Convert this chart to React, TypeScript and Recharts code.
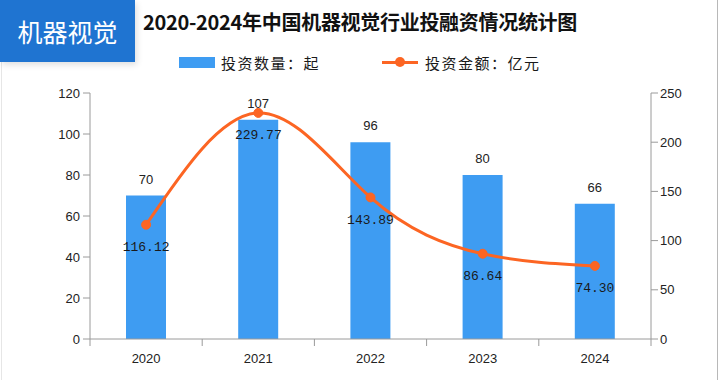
import React from "react";
import {
  ComposedChart,
  Bar,
  Line,
  XAxis,
  YAxis,
  LabelList,
} from "recharts";

const years = ["2020", "2021", "2022", "2023", "2024"];
const dealCounts = [70, 107, 96, 80, 66];
const dealAmounts = [116.12, 229.77, 143.89, 86.64, 74.3];
const leftTicks = [0, 20, 40, 60, 80, 100, 120];
const rightTicks = [0, 50, 100, 150, 200, 250];

const title = "2020-2024年中国机器视觉行业投融资情况统计图";
const badge = "机器视觉";
const countName = "投资数量：起";
const amountName = "投资金额：亿元";

const BAR_COLOR = "#3e9cf2";
const LINE_COLOR = "#fc6523";
const AXIS_COLOR = "#9a9a9a";

const data = years.map((year, i) => ({
  year,
  count: dealCounts[i],
  amount: dealAmounts[i],
}));

const XTick = (props: any) => {
  const { x, y, payload, index, visibleTicksCount } = props;
  const half = 561 / years.length / 2;
  const isLast = index === (visibleTicksCount ?? years.length) - 1;
  return (
    <g>
      <line x1={x - half} y1={y} x2={x - half} y2={y + 7} stroke={AXIS_COLOR} />
      {isLast && (
        <line x1={x + half} y1={y} x2={x + half} y2={y + 7} stroke={AXIS_COLOR} />
      )}
      <text
        x={x}
        y={y + 24}
        textAnchor="middle"
        fontSize={13}
        fontFamily="Liberation Sans, Arial, sans-serif"
        fill="#222"
      >
        {payload.value}
      </text>
    </g>
  );
};

const tickStyle = {
  fontSize: 13,
  fontFamily: "Liberation Sans, Arial, sans-serif",
  fill: "#222",
};

export default function App() {
  return (
    <div
      style={{
        position: "absolute",
        left: 0,
        top: 0,
        width: 721,
        height: 380,
        background: "#fff",
        overflow: "hidden",
      }}
    >
      <div
        style={{
          position: "absolute",
          left: 0,
          top: 0,
          width: 135,
          height: 62,
          background: "#1f74d1",
          color: "#fff",
          fontFamily: "Noto Sans CJK SC, sans-serif",
          fontSize: 25,
          lineHeight: "62px",
          textAlign: "center",
          boxShadow: "2px 3px 6px rgba(0,0,0,0.12)",
          zIndex: 2,
        }}
      >
        {badge}
      </div>
      <div
        style={{
          position: "absolute",
          left: 1,
          top: 62,
          width: 1,
          height: 318,
          background: "#e6e6e6",
        }}
      />
      <div
        style={{
          position: "absolute",
          left: 717,
          top: 0,
          width: 1,
          height: 380,
          background: "#b8b8b8",
        }}
      />
      <div
        style={{
          position: "absolute",
          left: 143,
          top: 8,
          fontFamily: "Noto Sans CJK SC, sans-serif",
          fontWeight: 700,
          fontSize: 20,
          letterSpacing: -0.3,
          lineHeight: "28px",
          color: "#111",
          whiteSpace: "nowrap",
        }}
      >
        {title}
      </div>
      <div
        style={{
          position: "absolute",
          top: 52,
          left: 179,
          height: 20,
          display: "flex",
          alignItems: "center",
          fontFamily: "Noto Sans CJK SC, sans-serif",
          fontSize: 15,
          letterSpacing: 1.5,
          color: "#1a1a1a",
          whiteSpace: "nowrap",
        }}
      >
        <span
          style={{
            display: "inline-block",
            width: 36,
            height: 11,
            background: BAR_COLOR,
            marginRight: 6,
          }}
        />
        <span>{countName}</span>
        <span
          style={{
            position: "relative",
            display: "inline-block",
            width: 36,
            height: 11,
            marginLeft: 62,
            marginRight: 7,
          }}
        >
          <span
            style={{
              position: "absolute",
              left: 0,
              top: 4,
              width: 36,
              height: 3,
              background: LINE_COLOR,
            }}
          />
          <span
            style={{
              position: "absolute",
              left: 13,
              top: 0,
              width: 10,
              height: 10,
              borderRadius: 5,
              background: LINE_COLOR,
            }}
          />
        </span>
        <span>{amountName}</span>
      </div>
      <ComposedChart
        width={721}
        height={380}
        data={data}
        margin={{ top: 93, right: 0, bottom: 0, left: 0 }}
        style={{ position: "absolute", left: 0, top: 0 }}
      >
        <XAxis
          dataKey="year"
          height={41}
          stroke={AXIS_COLOR}
          tickLine={false}
          tickSize={0}
          tickMargin={0}
          tick={<XTick />}
          interval={0}
        />
        <YAxis
          yAxisId="left"
          width={90}
          domain={[0, 120]}
          ticks={leftTicks}
          stroke={AXIS_COLOR}
          tickSize={7}
          tickMargin={3}
          tick={tickStyle}
          interval={0}
        />
        <YAxis
          yAxisId="right"
          orientation="right"
          width={70}
          domain={[0, 250]}
          ticks={rightTicks}
          stroke={AXIS_COLOR}
          tickSize={7}
          tickMargin={2}
          tick={tickStyle}
          interval={0}
        />
        <Bar
          yAxisId="left"
          dataKey="count"
          fill={BAR_COLOR}
          barSize={40}
          isAnimationActive={false}
        >
          <LabelList
            dataKey="count"
            position="top"
            offset={12}
            fontSize={13}
            fontFamily="Liberation Sans, Arial, sans-serif"
            fill="#222"
          />
        </Bar>
        <Line
          yAxisId="right"
          dataKey="amount"
          type="natural"
          stroke={LINE_COLOR}
          strokeWidth={3}
          dot={{ r: 4.5, fill: LINE_COLOR, stroke: LINE_COLOR, strokeWidth: 1 }}
          activeDot={false}
          isAnimationActive={false}
        >
          <LabelList
            dataKey="amount"
            position="bottom"
            offset={17}
            fontSize={13}
            fontFamily="Liberation Mono, DejaVu Sans Mono, monospace"
            fill="#1a1a1a"
            formatter={(v: any) => Number(v).toFixed(2)}
          />
        </Line>
      </ComposedChart>
    </div>
  );
}
